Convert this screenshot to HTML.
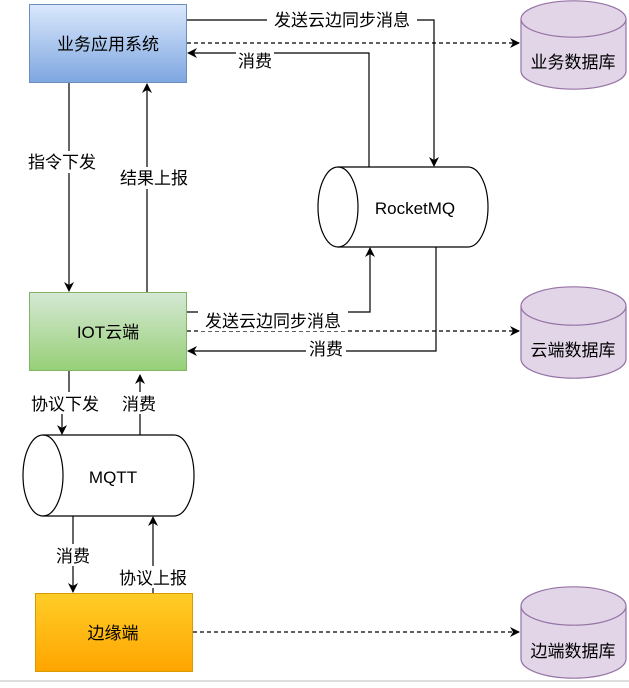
<!DOCTYPE html>
<html><head><meta charset="utf-8"><style>
html,body{margin:0;padding:0;background:#fff}
text{font-family:"Liberation Sans","Noto Sans CJK SC",sans-serif;font-size:17px;fill:#000}
</style></head><body>
<svg width="629" height="683" viewBox="0 0 629 683" xmlns="http://www.w3.org/2000/svg">
<defs>
<linearGradient id="gb" x1="0" y1="0" x2="0" y2="1"><stop offset="0" stop-color="#dae8fc"/><stop offset="1" stop-color="#7ea6e0"/></linearGradient>
<linearGradient id="gg" x1="0" y1="0" x2="0" y2="1"><stop offset="0" stop-color="#d5e8d4"/><stop offset="1" stop-color="#97d077"/></linearGradient>
<linearGradient id="go" x1="0" y1="0" x2="0" y2="1"><stop offset="0" stop-color="#ffcd28"/><stop offset="1" stop-color="#ffa500"/></linearGradient>
<marker id="a" markerWidth="10" markerHeight="10" refX="9" refY="5" orient="auto" markerUnits="userSpaceOnUse"><path d="M0,0 L10,5 L0,10 L3,5 z" fill="#000"/></marker>
</defs>
<rect x="0" y="0" width="629" height="683" fill="#fff"/>
<line x1="0" y1="681" x2="629" y2="681" stroke="#ddd" stroke-width="2"/>
<rect x="29.5" y="4.5" width="157" height="78" fill="url(#gb)" stroke="#6c8ebf"/>
<text x="108" y="50" text-anchor="middle">业务应用系统</text>
<rect x="29.5" y="292.5" width="157" height="78" fill="url(#gg)" stroke="#82b366"/>
<text x="108" y="338" text-anchor="middle">IOT云端</text>
<rect x="35.5" y="593.5" width="157" height="78" fill="url(#go)" stroke="#d79b00"/>
<text x="113" y="639" text-anchor="middle">边缘端</text>
<g fill="#e1d5e7" stroke="#9673a6" stroke-width="1.2">
<path d="M521,19 A52,18 0 0 1 626,19 V71 A52,18 0 0 1 521,71 Z"/><path d="M521,19 A52,18 0 0 0 626,19" fill="none"/>
<path d="M521,306 A52,19 0 0 1 626,306 V359 A52,19 0 0 1 521,359 Z"/><path d="M521,306 A52,19 0 0 0 626,306" fill="none"/>
<path d="M521,606 A52,19 0 0 1 626,606 V659 A52,19 0 0 1 521,659 Z"/><path d="M521,606 A52,19 0 0 0 626,606" fill="none"/>
</g>
<text x="573" y="68" text-anchor="middle">业务数据库</text>
<text x="573" y="356" text-anchor="middle">云端数据库</text>
<text x="573" y="657" text-anchor="middle">边端数据库</text>
<g fill="#fff" stroke="#000" stroke-width="1.2">
<path d="M338,167 H468 A20,40 0 0 1 468,247 H338 A20,40 0 0 1 338,167 Z"/><path d="M338,167 A20,40 0 0 1 338,247" fill="none"/>
<path d="M43,435 H174 A20,40.5 0 0 1 174,516 H43 A20,40.5 0 0 1 43,435 Z"/><path d="M43,435 A20,40.5 0 0 1 43,516" fill="none"/>
</g>
<text x="415" y="214" text-anchor="middle">RocketMQ</text>
<text x="113" y="483" text-anchor="middle">MQTT</text>
<g fill="none" stroke="#000" stroke-width="1.2">
<path d="M187,20 H434 V166" marker-end="url(#a)"/>
<path d="M369,167 V53 H188" marker-end="url(#a)"/>
<path d="M187,43 H519" stroke-dasharray="4,3" marker-end="url(#a)"/>
<path d="M69,83 V291" marker-end="url(#a)"/>
<path d="M147,292 V84" marker-end="url(#a)"/>
<path d="M187,312 H370 V248" marker-end="url(#a)"/>
<path d="M187,331 H519" stroke-dasharray="4,3" marker-end="url(#a)"/>
<path d="M436,247 V351 H188" marker-end="url(#a)"/>
<path d="M69,371 V403 H62 V434" marker-end="url(#a)"/>
<path d="M140,435 V375" marker-end="url(#a)"/>
<path d="M73,516 V592" marker-end="url(#a)"/>
<path d="M153,593 V517" marker-end="url(#a)"/>
<path d="M193,632 H519" stroke-dasharray="4,3" marker-end="url(#a)"/>
</g>
<g>
<rect x="267" y="9" width="150" height="22" fill="#fff"/><text x="342" y="26" text-anchor="middle">发送云边同步消息</text>
<rect x="236" y="51" width="38" height="20" fill="#fff"/><text x="255" y="67" text-anchor="middle">消费</text>
<rect x="24" y="151" width="76" height="22" fill="#fff"/><text x="62" y="168" text-anchor="middle">指令下发</text>
<rect x="116" y="167" width="76" height="22" fill="#fff"/><text x="154" y="184" text-anchor="middle">结果上报</text>
<rect x="198" y="311" width="150" height="20" fill="#fff"/><text x="273" y="327" text-anchor="middle">发送云边同步消息</text>
<rect x="306" y="339" width="40" height="20" fill="#fff"/><text x="326" y="355" text-anchor="middle">消费</text>
<rect x="26" y="392" width="78" height="22" fill="#fff"/><text x="65" y="410" text-anchor="middle">协议下发</text>
<rect x="119" y="392" width="40" height="22" fill="#fff"/><text x="139" y="410" text-anchor="middle">消费</text>
<rect x="53" y="544" width="40" height="22" fill="#fff"/><text x="73" y="562" text-anchor="middle">消费</text>
<rect x="115" y="566" width="76" height="22" fill="#fff"/><text x="153" y="584" text-anchor="middle">协议上报</text>
</g>
</svg>
</body></html>
